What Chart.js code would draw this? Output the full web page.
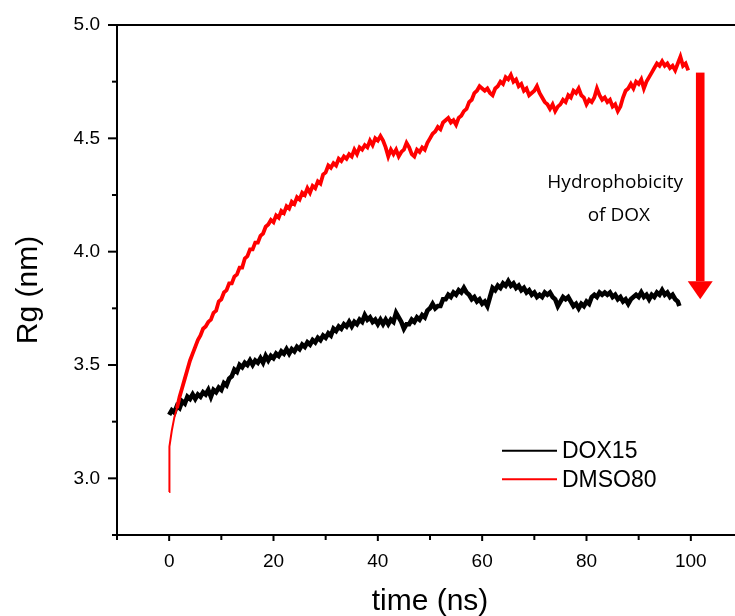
<!DOCTYPE html>
<html lang="en">
<head>
<meta charset="UTF-8" />
<title>Rg vs time</title>
<script src="https://cdn.jsdelivr.net/npm/chart.js@4.4.0/dist/chart.umd.min.js"></script>
<style>
  body { margin: 0; overflow: hidden; background: #fff; }
  canvas { display: block; }
</style>
</head>
<body>
<canvas id="chart" width="745" height="616"></canvas>

<script>
// DOX15 (black), time in ns
const doxTime = [
  0,0.5,1,1.5,2,2.5,3,3.5,4,4.5,5,5.5,6,6.5,7,7.5,8,8.5,9,9.5,
  10,10.5,11,11.5,12,12.5,13,13.5,14,14.5,15,15.5,16,16.5,17,17.5,18,18.5,19,19.5,
  20,20.5,21,21.5,22,22.5,23,23.5,24,24.5,25,25.5,26,26.5,27,27.5,28,28.5,29,29.5,
  30,30.5,31,31.5,32,32.5,33,33.5,34,34.5,35,35.5,36,36.5,37,37.5,38,38.5,39,39.5,
  40,40.5,41,41.5,42,42.5,43,43.5,44,44.5,45,45.5,46,46.5,47,47.5,48,48.5,49,49.5,
  50,50.5,51,51.5,52,52.5,53,53.5,54,54.5,55,55.5,56,56.5,57,57.5,58,58.5,59,59.5,
  60,60.5,61,61.5,62,62.5,63,63.5,64,64.5,65,65.5,66,66.5,67,67.5,68,68.5,69,69.5,
  70,70.5,71,71.5,72,72.5,73,73.5,74,74.5,75,75.5,76,76.5,77,77.5,78,78.5,79,79.5,
  80,80.5,81,81.5,82,82.5,83,83.5,84,84.5,85,85.5,86,86.5,87,87.5,88,88.5,89,89.5,
  90,90.5,91,91.5,92,92.5,93,93.5,94,94.5,95,95.5,96,96.5,97,97.5,97.8
];
const doxRg = [
  3.28,3.30,3.29,3.32,3.31,3.34,3.33,3.36,3.35,3.37,3.35,3.37,3.36,3.38,3.37,3.39,3.36,3.39,3.38,3.40,
  3.39,3.42,3.41,3.44,3.45,3.48,3.47,3.50,3.49,3.51,3.50,3.52,3.50,3.52,3.51,3.53,3.51,3.54,3.52,3.54,
  3.53,3.55,3.54,3.56,3.55,3.57,3.55,3.57,3.56,3.58,3.57,3.59,3.58,3.60,3.59,3.61,3.60,3.62,3.61,3.63,
  3.62,3.64,3.63,3.66,3.65,3.67,3.66,3.68,3.67,3.69,3.67,3.69,3.68,3.70,3.69,3.72,3.70,3.71,3.69,3.70,
  3.68,3.70,3.68,3.70,3.68,3.70,3.69,3.73,3.71,3.69,3.66,3.68,3.68,3.70,3.69,3.71,3.70,3.72,3.71,3.74,
  3.75,3.77,3.75,3.76,3.76,3.79,3.79,3.81,3.80,3.82,3.81,3.83,3.82,3.84,3.82,3.81,3.79,3.80,3.78,3.79,
  3.77,3.78,3.76,3.80,3.84,3.83,3.85,3.84,3.86,3.85,3.87,3.85,3.86,3.84,3.85,3.83,3.84,3.82,3.83,3.81,
  3.82,3.80,3.81,3.80,3.82,3.81,3.82,3.80,3.79,3.76,3.78,3.80,3.79,3.80,3.78,3.76,3.77,3.75,3.77,3.76,
  3.78,3.77,3.80,3.81,3.80,3.82,3.81,3.82,3.81,3.82,3.80,3.81,3.79,3.80,3.78,3.79,3.77,3.79,3.80,3.81,
  3.80,3.82,3.80,3.81,3.79,3.81,3.80,3.82,3.81,3.83,3.81,3.82,3.80,3.81,3.79,3.78,3.76
];

// DMSO80 (red), time in ns
const dmsoTime = [
  0,0.05,0.5,1,1.5,2,2.5,3,3.5,4,4.5,5,5.5,6,6.5,7,7.5,8,8.5,9,9.5,
  10,10.5,11,11.5,12,12.5,13,13.5,14,14.5,15,15.5,16,16.5,17,17.5,18,18.5,19,19.5,
  20,20.5,21,21.5,22,22.5,23,23.5,24,24.5,25,25.5,26,26.5,27,27.5,28,28.5,29,29.5,
  30,30.5,31,31.5,32,32.5,33,33.5,34,34.5,35,35.5,36,36.5,37,37.5,38,38.5,39,39.5,
  40,40.5,41,41.5,42,42.5,43,43.5,44,44.5,45,45.5,46,46.5,47,47.5,48,48.5,49,49.5,
  50,50.5,51,51.5,52,52.5,53,53.5,54,54.5,55,55.5,56,56.5,57,57.5,58,58.5,59,59.5,
  60,60.5,61,61.5,62,62.5,63,63.5,64,64.5,65,65.5,66,66.5,67,67.5,68,68.5,69,69.5,
  70,70.5,71,71.5,72,72.5,73,73.5,74,74.5,75,75.5,76,76.5,77,77.5,78,78.5,79,79.5,
  80,80.5,81,81.5,82,82.5,83,83.5,84,84.5,85,85.5,86,86.5,87,87.5,88,88.5,89,89.5,
  90,90.5,91,91.5,92,92.5,93,93.5,94,94.5,95,95.5,96,96.5,97,97.5,98,98.5,99,99.5
];
const dmsoRg = [
  2.94,3.14,3.21,3.27,3.31,3.36,3.40,3.44,3.48,3.52,3.55,3.58,3.61,3.63,3.66,3.67,3.69,3.70,3.73,3.74,3.78,
  3.79,3.82,3.83,3.86,3.86,3.89,3.90,3.93,3.93,3.97,3.98,4.01,4.01,4.04,4.04,4.07,4.08,4.11,4.12,4.14,
  4.13,4.16,4.15,4.18,4.17,4.20,4.19,4.22,4.21,4.24,4.23,4.26,4.25,4.28,4.26,4.29,4.28,4.31,4.30,4.34,
  4.35,4.38,4.37,4.39,4.38,4.41,4.40,4.42,4.41,4.43,4.42,4.45,4.43,4.46,4.45,4.47,4.46,4.49,4.47,4.50,
  4.49,4.51,4.49,4.46,4.42,4.45,4.43,4.45,4.42,4.44,4.45,4.48,4.46,4.43,4.42,4.45,4.44,4.46,4.45,4.48,
  4.50,4.52,4.53,4.55,4.54,4.57,4.58,4.59,4.57,4.58,4.56,4.59,4.60,4.62,4.63,4.66,4.67,4.70,4.71,4.73,
  4.72,4.71,4.72,4.70,4.69,4.72,4.73,4.75,4.74,4.77,4.76,4.78,4.75,4.76,4.73,4.74,4.71,4.72,4.69,4.70,
  4.71,4.73,4.70,4.68,4.66,4.65,4.63,4.65,4.62,4.64,4.65,4.67,4.66,4.69,4.68,4.71,4.70,4.72,4.69,4.68,
  4.65,4.67,4.66,4.68,4.72,4.69,4.67,4.68,4.66,4.67,4.64,4.65,4.62,4.64,4.68,4.71,4.72,4.74,4.72,4.75,
  4.74,4.76,4.72,4.75,4.77,4.79,4.81,4.83,4.82,4.84,4.82,4.83,4.81,4.82,4.80,4.83,4.86,4.82,4.83,4.80
];

const seriesNames = ['DOX15', 'DMSO80'];
const seriesColors = ['#000000', '#ff0000'];

// annotation (data units)
const noteLines = ['Hydrophobicity', 'of DOX'];
const noteX = [85.5, 86.2];
const noteY = [4.305, 4.157];
const arrowX = 101.8;
const arrowFrom = 4.79;
const arrowTo = 3.79;

function pts(t, v) { return t.map((x, i) => ({ x: x, y: v[i] })); }

const isMajor = (v, step) => Math.abs(v / step - Math.round(v / step)) < 1e-6;

const decorations = {
  id: 'decorations',
  afterDatasetsDraw(chart) {
    const { ctx, chartArea: a, scales: { x, y } } = chart;
    ctx.save();
    ctx.strokeStyle = '#000';
    ctx.lineWidth = 2;
    // top frame line
    ctx.beginPath();
    ctx.moveTo(a.left, a.top);
    ctx.lineTo(a.right, a.top);
    ctx.stroke();
    // tick marks, long for labelled ones
    y.ticks.forEach(t => {
      const py = y.getPixelForValue(t.value);
      const len = isMajor(t.value, 0.5) ? 9 : 5;
      ctx.beginPath();
      ctx.moveTo(a.left - len, py);
      ctx.lineTo(a.left, py);
      ctx.stroke();
    });
    x.ticks.forEach(t => {
      const px = x.getPixelForValue(t.value);
      const len = isMajor(t.value, 20) ? 6 : 5;
      ctx.beginPath();
      ctx.moveTo(px, a.bottom);
      ctx.lineTo(px, a.bottom + len);
      ctx.stroke();
    });

    // y title
    ctx.fillStyle = '#000';
    ctx.font = '30px "Liberation Sans", Arial, sans-serif';
    ctx.textAlign = 'center';
    ctx.textBaseline = 'middle';
    ctx.save();
    ctx.translate(29, 290);
    ctx.rotate(-Math.PI / 2);
    ctx.fillText('Rg (nm)', 0, 0);
    ctx.restore();

    // legend
    ctx.font = '23px "Liberation Sans", Arial, sans-serif';
    ctx.textAlign = 'left';
    const legY = [450.7, 479.3];
    chart.data.datasets.forEach((ds, i) => {
      ctx.strokeStyle = ds.borderColor;
      ctx.lineWidth = 2;
      ctx.beginPath();
      ctx.moveTo(502, legY[i]);
      ctx.lineTo(557, legY[i]);
      ctx.stroke();
      ctx.fillText(ds.label, 562, legY[i] + 1);
    });

    // annotation text
    ctx.font = '19px "Open Sans", sans-serif';
    ctx.textAlign = 'center';
    noteLines.forEach((s, i) => {
      ctx.fillText(s, x.getPixelForValue(noteX[i]), y.getPixelForValue(noteY[i]));
    });

    // red arrow
    const ax = x.getPixelForValue(arrowX);
    const y0 = y.getPixelForValue(arrowFrom);
    const y1 = y.getPixelForValue(arrowTo);
    ctx.fillStyle = '#ff0000';
    ctx.fillRect(ax - 4.3, y0, 8.6, (y1 - 18) - y0);
    ctx.beginPath();
    ctx.moveTo(ax - 12.5, y1 - 18);
    ctx.lineTo(ax + 12.5, y1 - 18);
    ctx.lineTo(ax, y1);
    ctx.closePath();
    ctx.fill();
    ctx.restore();
  }
};

const tickFont = { family: '"Liberation Sans", Arial, sans-serif', size: 19 };
const titleFont = { family: '"Liberation Sans", Arial, sans-serif', size: 30 };

new Chart(document.getElementById('chart').getContext('2d'), {
  type: 'line',
  data: {
    datasets: [{
      label: seriesNames[0],
      data: pts(doxTime, doxRg),
      borderColor: seriesColors[0],
      borderWidth: 4.6,
      pointRadius: 0,
      tension: 0,
      order: 1
    }, {
      label: seriesNames[1],
      data: pts(dmsoTime, dmsoRg),
      borderColor: seriesColors[1],
      borderWidth: 3.8,
      pointRadius: 0,
      tension: 0,
      order: 0,
      segment: {
        borderWidth: c => c.p0DataIndex < 4 ? 2 : 3.8
      }
    }]
  },
  options: {
    responsive: false,
    animation: false,
    layout: { padding: { top: 25, right: 2, left: 0, bottom: 0 } },
    plugins: { legend: { display: false }, tooltip: { enabled: false } },
    scales: {
      x: {
        type: 'linear',
        min: -10,
        max: 110,
        afterFit: s => { s.height = 81; },
        grid: { display: false, drawTicks: true, tickLength: 15 },
        border: { display: true, color: '#000', width: 2 },
        ticks: {
          stepSize: 10,
          autoSkip: false,
          maxRotation: 0,
          padding: 0,
          color: '#000',
          font: tickFont,
          callback: v => isMajor(v, 20) ? String(v) : ''
        },
        title: { display: true, text: 'time (ns)', color: '#000', font: titleFont, padding: { top: 0, bottom: -4 } }
      },
      y: {
        min: 2.75,
        max: 5.0,
        afterFit: s => { s.width = 117; },
        grid: { display: false, drawTicks: true, tickLength: 17 },
        border: { display: true, color: '#000', width: 2 },
        ticks: {
          stepSize: 0.25,
          autoSkip: false,
          padding: 0,
          color: '#000',
          font: tickFont,
          callback: v => isMajor(v, 0.5) ? v.toFixed(1) : ''
        }
      }
    }
  },
  plugins: [decorations]
});
</script>
</body>
</html>
